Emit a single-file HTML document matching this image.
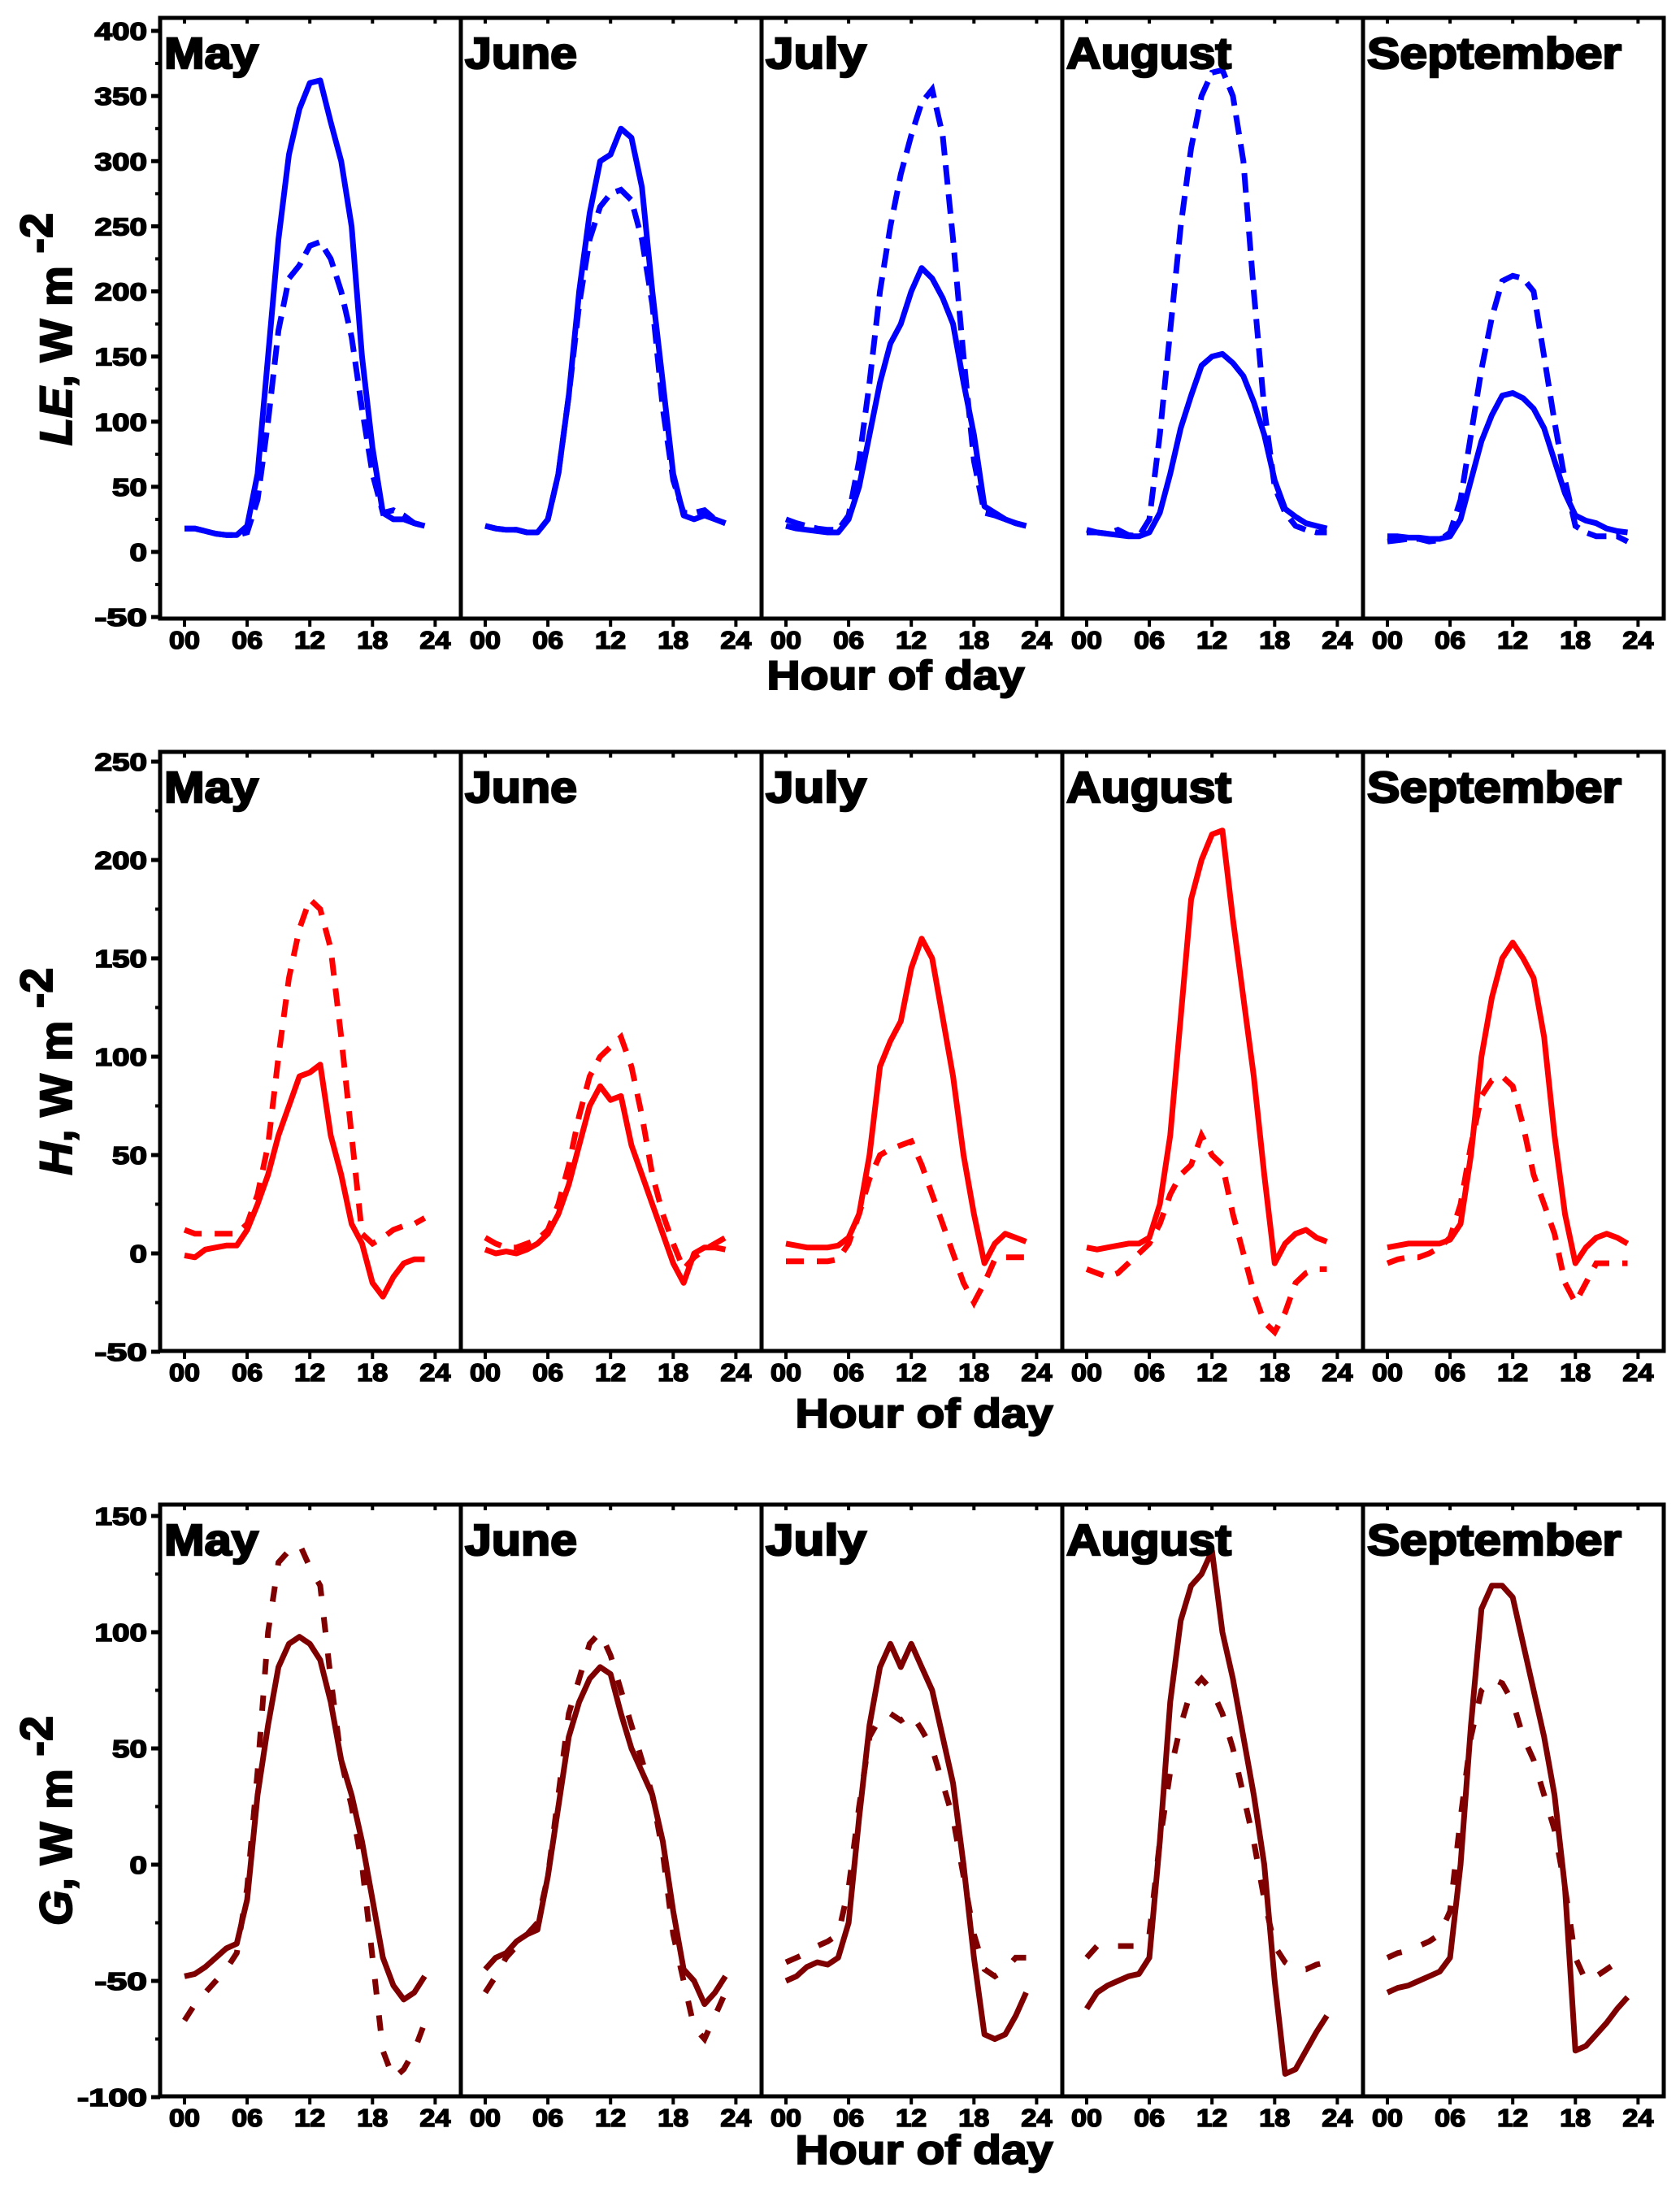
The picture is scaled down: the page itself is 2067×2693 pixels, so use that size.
<!DOCTYPE html>
<html><head><meta charset="utf-8"><title>Diurnal energy fluxes</title>
<style>html,body{margin:0;padding:0;background:#fff}svg{display:block}</style></head>
<body>
<svg id="chart" xmlns="http://www.w3.org/2000/svg" width="2067" height="2693" viewBox="0 0 2067 2693" font-family="Liberation Sans, Arial, sans-serif" font-weight="bold"></svg>
<script>
const months = ["May","June","July","August","September"];
const monthLabelWidths = [116,138,124,203,313];
const hours = [0,1,2,3,4,5,6,7,8,9,10,11,12,13,14,15,16,17,18,19,20,21,22,23];
const xTickLabels = ["00","06","12","18","24"];
const xTickHours = [0,6,12,18,24];

const leTicks = [-50,0,50,100,150,200,250,300,350,400];
const hTicks = [-50,0,50,100,150,200,250];
const gTicks = [-100,-50,0,50,100,150];

const leSolid = [
[18,18,16,14,13,13,20,60,150,240,305,340,360,362,330,300,250,150,80,30,25,25,22,20],
[20,18,17,17,15,15,25,60,120,200,260,300,305,325,318,280,200,130,60,28,25,28,25,22],
[20,18,17,16,15,15,25,50,90,130,160,175,200,218,210,195,175,130,90,35,30,25,22,20],
[15,15,14,13,12,12,15,30,60,95,120,143,150,152,145,135,115,90,55,33,27,22,20,18],
[12,12,11,11,10,10,12,25,55,85,105,120,122,118,110,95,70,45,28,24,22,18,16,15]];
const leDashed = [
[18,18,16,14,13,13,15,40,100,170,210,220,235,238,225,200,165,110,60,30,32,28,22,20],
[20,18,17,17,15,15,25,60,120,190,240,265,275,278,270,240,190,110,55,30,30,32,25,22],
[25,22,20,18,17,17,28,70,130,200,250,290,320,345,355,320,240,150,70,30,28,25,22,20],
[17,15,14,17,13,12,25,90,170,250,310,350,368,370,350,300,200,110,50,30,20,17,15,15],
[8,9,10,10,8,9,15,40,90,140,180,208,212,210,200,150,100,55,20,15,12,12,12,8]];
const hSolid = [
[-1,-2,2,3,4,4,12,25,40,60,75,90,92,96,60,40,15,5,-15,-22,-12,-5,-3,-3],
[2,0,1,0,2,5,10,20,35,55,75,85,78,80,55,40,25,10,-5,-15,0,3,3,2],
[5,4,3,3,3,4,8,20,50,95,108,118,145,160,150,120,90,50,20,-5,5,10,8,6],
[3,2,3,4,5,5,8,25,60,120,180,200,213,215,170,130,90,40,-5,5,10,12,8,6],
[3,4,5,5,5,5,7,15,50,100,130,150,158,150,140,110,60,20,-5,3,8,10,8,5]];
const hDashed = [
[12,10,10,10,10,10,15,30,55,100,140,165,180,175,155,110,60,10,5,8,12,14,15,18],
[8,5,3,3,5,7,12,25,45,70,90,100,105,110,95,70,40,20,5,-8,-2,2,5,8],
[-4,-4,-4,-4,-4,-3,5,20,38,50,53,55,57,45,30,15,0,-15,-25,-15,-3,-2,-2,-2],
[-8,-10,-12,-10,-5,0,5,15,30,40,45,60,50,45,20,0,-20,-35,-40,-30,-15,-10,-8,-8],
[-5,-3,-2,-2,0,3,8,25,55,80,88,90,85,65,40,25,10,-15,-25,-15,-5,-5,-5,-5]];
const gSolid = [
[-48,-47,-44,-40,-36,-34,-15,30,60,85,95,98,95,88,70,45,30,10,-15,-40,-52,-58,-55,-48],
[-45,-40,-38,-33,-30,-28,-5,25,55,70,80,85,82,65,50,40,30,10,-20,-45,-50,-60,-55,-48],
[-50,-48,-44,-42,-43,-40,-25,20,60,85,95,85,95,85,75,55,35,0,-40,-73,-75,-73,-65,-55],
[-62,-55,-52,-50,-48,-47,-40,10,70,105,120,125,135,100,80,55,30,0,-50,-90,-88,-80,-72,-65],
[-55,-53,-52,-50,-48,-46,-40,0,60,110,120,120,115,95,75,55,30,-10,-80,-78,-73,-68,-62,-57]];
const gDashed = [
[-67,-60,-55,-50,-45,-38,-10,40,100,130,135,138,128,120,80,45,25,0,-40,-80,-92,-88,-80,-68],
[-55,-48,-40,-35,-30,-25,-5,30,65,80,95,100,90,75,60,45,30,5,-30,-50,-70,-75,-65,-55],
[-42,-40,-38,-35,-33,-30,-10,25,55,63,65,62,65,58,50,35,20,-5,-30,-45,-48,-45,-40,-40],
[-40,-35,-35,-35,-35,-35,-30,10,40,60,75,80,75,65,50,30,10,-15,-35,-42,-45,-45,-43,-42],
[-40,-38,-37,-35,-33,-30,-20,20,55,75,80,78,70,55,45,30,15,-10,-40,-50,-48,-45,-42,-40]];

const NS = "http://www.w3.org/2000/svg";
const svg = document.getElementById("chart");
function mk(tag, attrs, parent){const e=document.createElementNS(NS,tag);for(const k in attrs)e.setAttribute(k,attrs[k]);(parent||svg).appendChild(e);return e;}

const panelLefts = [197,567,937,1307,1677];
const panelW = 370;
function xScale(p,h){return panelLefts[p]+30+h*12.85;}

const rows = [
 {name:"le", top:22, bottom:761, ticks:leTicks, solid:leSolid, dashed:leDashed, color:"#0000ff", dash:"24 12", titleY:405, title:"LE", hodY:848, hodX:1102},
 {name:"h", top:925, bottom:1662, ticks:hTicks, solid:hSolid, dashed:hDashed, color:"#ff0000", dash:"22 16", titleY:1318, title:"H", hodY:1756, hodX:1137},
 {name:"g", top:1851, bottom:2579, ticks:gTicks, solid:gSolid, dashed:gDashed, color:"#7f0000", dash:"19 26", titleY:2240, title:"G", hodY:2662, hodX:1137}
];
const rowScale = [{y0:679,k:641/400},{y0:1542,k:605/250},{y0:2294,k:715/250}];

rows.forEach((r,ri)=>{
  const yS = v => rowScale[ri].y0 - v*rowScale[ri].k;
  const g = mk("g",{});
  
  
  r.ticks.forEach(t=>{
    const y=yS(t);
    const tk = mk("line",{x1:186,x2:197,y1:y,y2:y,stroke:"#000","stroke-width":5},g);
    
    
    const lab = String(t);
    const tx = mk("text",{x:181,y:y+11,"text-anchor":"end","font-size":31,stroke:"#000","stroke-width":1.6,textLength:lab.length*21.5,lengthAdjust:"spacingAndGlyphs"},g);
    tx.textContent = lab;
    
    
  });
  for(let i=0;i<r.ticks.length-1;i++){
    const y=yS((r.ticks[i]+r.ticks[i+1])/2);
    const mt = mk("line",{x1:191,x2:197,y1:y,y2:y,stroke:"#000","stroke-width":4},g);
    
    
  }
  months.forEach((m,p)=>{
    const L = panelLefts[p];
    const pg = mk("g",{},g);
    
    
    xTickHours.forEach((h,i)=>{
      const x = xScale(p,h);
      const xt = mk("line",{x1:x,x2:x,y1:r.bottom,y2:r.bottom+10,stroke:"#000","stroke-width":4},pg);
      
      
      const tt = mk("line",{x1:x,x2:x,y1:r.top,y2:r.top+7,stroke:"#000","stroke-width":4},pg);
      
      
      const xl = mk("text",{x:x,y:r.bottom+37,"text-anchor":"middle","font-size":31,stroke:"#000","stroke-width":1.6,textLength:38,lengthAdjust:"spacingAndGlyphs"},pg);
      xl.textContent = xTickLabels[i];
      
      
    });
    const mkPath = (arr)=>arr.map((v,i)=>(i?"L":"M")+xScale(p,hours[i]).toFixed(1)+","+yS(v).toFixed(1)).join(" ");
    const sp = mk("path",{d:mkPath(r.dashed[p]),fill:"none",stroke:r.color,"stroke-width":7,"stroke-dasharray":r.dash},pg);
    
    
    const so = mk("path",{d:mkPath(r.solid[p]),fill:"none",stroke:r.color,"stroke-width":7,"stroke-linejoin":"round"},pg);
    
    
    const fr = mk("rect",{x:L,y:r.top,width:panelW,height:r.bottom-r.top,fill:"none",stroke:"#000","stroke-width":5},pg);
    
    
    const ml = mk("text",{x:L+5,y:r.top+62,"font-size":54,stroke:"#000","stroke-width":2.5,textLength:monthLabelWidths[p],lengthAdjust:"spacingAndGlyphs"},pg);
    ml.textContent = m;
    
    
  });
  const hod = mk("text",{x:r.hodX,y:r.hodY,"text-anchor":"middle","font-size":50,stroke:"#000","stroke-width":2,textLength:317,lengthAdjust:"spacingAndGlyphs"},g);
  hod.textContent = "Hour of day";
  
  
  const yt = mk("text",{transform:"translate(88,"+r.titleY+") rotate(-90)","text-anchor":"middle","font-size":56,stroke:"#000","stroke-width":2},g);
  
  
  const t1 = mk("tspan",{"font-style":"italic"},yt); t1.textContent = r.title;
  const t2 = mk("tspan",{},yt); t2.textContent = ", W m ";
  const t3 = mk("tspan",{dy:-24},yt); t3.textContent = "-2";
});
</script>
</body></html>
